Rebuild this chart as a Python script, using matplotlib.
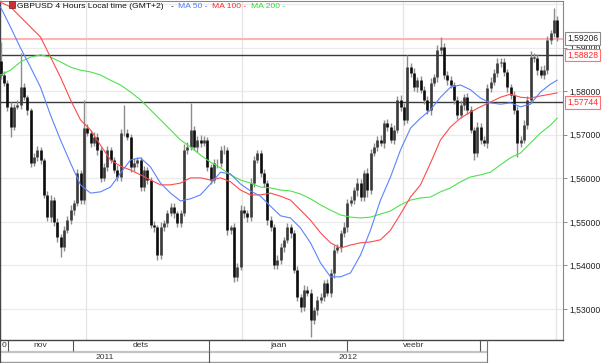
import numpy as np
import matplotlib
matplotlib.use("Agg")
import matplotlib.pyplot as plt
from matplotlib.ticker import FuncFormatter
from matplotlib.patches import Rectangle
import matplotlib.transforms as mtrans

plt.rcParams['font.family'] = ['Liberation Sans', 'DejaVu Sans']

# ---- data (GBPUSD, 4h candles) ----
first_open = 1.5868
closes = [
    1.5837, 1.5819, 1.5764, 1.5718, 1.5764, 1.5768, 1.5809, 1.5786, 1.5757, 1.5635,
    1.5649, 1.5665, 1.5642, 1.5562, 1.5511, 1.5550, 1.5500, 1.5465, 1.5442, 1.5481,
    1.5504, 1.5527, 1.5543, 1.5612, 1.5550, 1.5715, 1.5704, 1.5681, 1.5695, 1.5665,
    1.5601, 1.5626, 1.5665, 1.5642, 1.5619, 1.5603, 1.5704, 1.5704, 1.5695, 1.5626,
    1.5635, 1.5642,
    1.5580, 1.5619, 1.5596, 1.5493, 1.5488, 1.5424, 1.5488, 1.5497, 1.5520, 1.5534,
    1.5520, 1.5497, 1.5520, 1.5665, 1.5672, 1.5711, 1.5672, 1.5688, 1.5681, 1.5688,
    1.5626, 1.5596, 1.5635, 1.5635, 1.5665, 1.5665, 1.5481, 1.5488, 1.5374, 1.5397,
    1.5527, 1.5520, 1.5511, 1.5589, 1.5642, 1.5658, 1.5612, 1.5589, 1.5504, 1.5488,
    1.5401, 1.5413,
    1.5442, 1.5459, 1.5488, 1.5475, 1.5390, 1.5328, 1.5305, 1.5344, 1.5337, 1.5275,
    1.5298, 1.5321, 1.5328, 1.5360, 1.5337, 1.5383, 1.5436, 1.5442, 1.5475, 1.5488,
    1.5543, 1.5550, 1.5573, 1.5589, 1.5557, 1.5612, 1.5573, 1.5658, 1.5672, 1.5688,
    1.5681, 1.5727, 1.5718, 1.5688, 1.5711, 1.5780, 1.5764, 1.5734, 1.5855, 1.5842,
    1.5809, 1.5825,
    1.5803, 1.5780, 1.5757, 1.5819, 1.5832, 1.5894, 1.5901, 1.5837, 1.5825, 1.5814,
    1.5780, 1.5745, 1.5768, 1.5786, 1.5757, 1.5711, 1.5658, 1.5718, 1.5688, 1.5681,
    1.5807, 1.5821, 1.5842, 1.5864, 1.5867, 1.5844, 1.5809, 1.5791, 1.5757, 1.5681,
    1.5688, 1.5722, 1.5780, 1.5878, 1.5876, 1.5848, 1.5837, 1.5848, 1.5917, 1.5933,
    1.5963, 1.5924,
]
# wick lengths beyond the body, in pips
wick_up = [
    45, 8, 6, 10, 7, 12, 78, 9, 6, 5, 10, 8, 7, 5,
    9, 11, 6, 8, 7, 10, 9, 12, 8, 10, 6, 65, 9, 7,
    11, 8, 6, 10, 9, 7, 8, 12, 10, 64, 9, 7, 11, 8,
    8, 10, 7, 6, 9, 5, 11, 8, 7, 10, 9, 6, 8, 14,
    12, 62, 10, 9, 11, 8, 7, 6, 10, 9, 8, 12, 7, 6,
    9, 8, 11, 10, 7, 12, 9, 8, 6, 10, 7, 9, 8, 11,
    9, 7, 10, 8, 6, 9, 7, 11, 8, 10, 6, 9, 8, 7,
    10, 9, 11, 8, 7, 12, 9, 10, 8, 11, 9, 7, 12, 10,
    8, 9, 11, 7, 10, 8, 12, 9, 10, 8, 28, 9, 11, 7,
    10, 8, 9, 12, 7, 11, 23, 9, 8, 10, 7, 9, 11, 8,
    10, 9, 7, 12, 8, 10, 9, 11, 8, 12, 10, 9, 7, 8,
    10, 9, 8, 11, 9, 13, 10, 8, 9, 12, 10, 8, 28, 9,
]
wick_dn = [
    9, 7, 10, 23, 8, 6, 9, 7, 11, 8, 6, 10, 9, 7,
    8, 12, 9, 10, 23, 8, 7, 9, 11, 6, 8, 10, 7, 9,
    8, 11, 10, 7, 9, 8, 6, 10, 9, 8, 7, 11, 9, 8,
    10, 8, 9, 7, 11, 11, 8, 10, 9, 7, 12, 8, 9, 6,
    10, 8, 7, 11, 9, 8, 10, 9, 7, 12, 8, 9, 10, 8,
    12, 9, 7, 10, 11, 8, 9, 7, 10, 8, 12, 9, 10, 8,
    9, 10, 8, 12, 7, 9, 11, 10, 8, 39, 9, 11, 8, 10,
    7, 9, 12, 8, 10, 9, 11, 7, 9, 14, 10, 8, 16, 9,
    7, 10, 8, 11, 9, 8, 10, 7, 9, 11, 8, 10, 9, 12,
    8, 10, 9, 11, 7, 10, 8, 9, 12, 8, 10, 9, 7, 11,
    9, 8, 16, 10, 9, 8, 11, 9, 7, 10, 8, 9, 11, 8,
    10, 32, 9, 8, 10, 7, 9, 11, 8, 10, 9, 8, 9, 10,
]

# moving averages, sampled every 3rd bar
ma_bars = list(range(0, 168, 3)) + [167]
ma50 = [
    1.5993, 1.5947, 1.5899, 1.5855, 1.5809, 1.5745, 1.5688, 1.5635, 1.5585, 1.5566,
    1.5569, 1.5580, 1.5612, 1.5642, 1.5647, 1.5626, 1.5589, 1.5566, 1.5548, 1.5553,
    1.5562, 1.5587, 1.5614, 1.5610, 1.5587, 1.5571, 1.5559, 1.5536, 1.5514, 1.5509,
    1.5486, 1.5452, 1.5406, 1.5374, 1.5374, 1.5383, 1.5424, 1.5481, 1.5550, 1.5603,
    1.5665, 1.5715, 1.5738, 1.5757, 1.5786, 1.5809, 1.5814, 1.5803, 1.5784, 1.5773,
    1.5770, 1.5773, 1.5764, 1.5770, 1.5798, 1.5816, 1.5825,
]
ma100 = [
    1.6004, 1.5993, 1.5970, 1.5947, 1.5924, 1.5878, 1.5832, 1.5780, 1.5734, 1.5711,
    1.5676, 1.5642, 1.5628, 1.5619, 1.5608, 1.5596, 1.5585, 1.5585, 1.5589, 1.5601,
    1.5601, 1.5596, 1.5601, 1.5592, 1.5573, 1.5562, 1.5562, 1.5566, 1.5559, 1.5550,
    1.5527, 1.5504, 1.5475, 1.5452, 1.5440, 1.5447, 1.5452, 1.5454, 1.5459, 1.5481,
    1.5518, 1.5557, 1.5585, 1.5635, 1.5688, 1.5718, 1.5738, 1.5752, 1.5764, 1.5775,
    1.5786, 1.5793, 1.5786, 1.5784, 1.5789, 1.5793, 1.5796,
]
ma200 = [
    1.5837, 1.5848, 1.5867, 1.5878, 1.5883, 1.5878, 1.5867, 1.5855, 1.5848, 1.5844,
    1.5837, 1.5825, 1.5814, 1.5798, 1.5780, 1.5757, 1.5734, 1.5711, 1.5688, 1.5672,
    1.5653, 1.5637, 1.5624, 1.5608, 1.5596, 1.5589, 1.5580, 1.5578, 1.5573, 1.5571,
    1.5564, 1.5553, 1.5539, 1.5527, 1.5516, 1.5511, 1.5509, 1.5511, 1.5518, 1.5525,
    1.5539, 1.5550, 1.5555, 1.5557, 1.5569, 1.5578, 1.5592, 1.5603, 1.5608, 1.5614,
    1.5631, 1.5647, 1.5658, 1.5681, 1.5704, 1.5722, 1.5738,
]

level_lines = [1.58828, 1.57744]
last_price = 1.59206
price_ticks = [1.53, 1.54, 1.55, 1.56, 1.57, 1.58, 1.59]
month_names = ['0', 'nov', 'dets', 'jaan', 'veebr']
month_edges = [-0.15, 2.25, 21.75, 62.55, 103.95, 143.85]
year_names = ['2011', '2012']
year_edges = [-0.15, 62.55, 145.95]
vgrid_bars = [25.65, 72.45, 120.75, 166.65]

# ---- figure ----
W, H = 605, 363
fig = plt.figure(figsize=(W / 100, H / 100), dpi=100)
ax = fig.add_axes([0, 23 / H, 563 / W, 339 / H])

closes = np.array(closes)
opens = np.concatenate([[first_open], closes[:-1]])
highs = np.maximum(opens, closes) + np.array(wick_up) / 10000.0
lows = np.minimum(opens, closes) - np.array(wick_dn) / 10000.0
bars = np.arange(len(closes))
up = closes >= opens

for p in price_ticks + [1.60]:
    ax.axhline(p, color='#ebebeb', lw=0.9, zorder=0)
for b in vgrid_bars:
    ax.axvline(b, color='#e4e4e4', lw=0.9, zorder=0)

ax.axhline(last_price, color='#ffb4b4', lw=1.5, zorder=1)
for lv in level_lines:
    ax.axhline(lv, color='#3a3a3a', lw=1.0, zorder=2)

ax.vlines(bars, lows, highs, color='#8c8c8c', lw=1.0, zorder=3)
ax.vlines(bars[up], opens[up], closes[up], color='#3a3a3a', lw=1.9, zorder=4)
ax.vlines(bars[~up], closes[~up], opens[~up], color='#0d0d0d', lw=1.9, zorder=4)

ax.plot(ma_bars, ma200, color='#4ee24e', lw=0.8, zorder=5)
ax.plot(ma_bars, ma100, color='#ff4a4a', lw=0.8, zorder=5)
ax.plot(ma_bars, ma50, color='#5b82ff', lw=0.8, zorder=5)

ax.set_xlim(-0.15, 168.75)
ax.set_ylim(1.52291, 1.60067)
ax.set_xticks([])
ax.yaxis.tick_right()
ax.set_yticks(price_ticks)
ax.yaxis.set_major_formatter(FuncFormatter(lambda v, pos: f"{v:.5f}".replace('.', ',')))
ax.tick_params(axis='y', direction='out', length=3, width=0.6, color='#777777',
               pad=1.5, labelsize=6.2, labelcolor='#222222')

for side in ['left', 'bottom']:
    ax.spines[side].set_color('#444444')
    ax.spines[side].set_linewidth(1.0)
ax.spines['top'].set_color('#888888')
ax.spines['right'].set_color('#888888')
ax.spines['right'].set_linestyle((0, (1, 1)))
ax.spines['right'].set_linewidth(0.8)

# price boxes on the right scale
tr = mtrans.blended_transform_factory(ax.transAxes, ax.transData)
boxes = [(last_price, '#222222', '#8a8a8a'),
         (level_lines[0], '#ff2a2a', '#ff7070'),
         (level_lines[1], '#ff2a2a', '#ff7070')]
for val, tc, ec in boxes:
    ax.text(1 + 4 / 563, val, f"{val:.5f}".replace('.', ','), transform=tr,
            ha='left', va='center', fontsize=6.2, color=tc, clip_on=False, zorder=10,
            bbox=dict(boxstyle='square,pad=0.22', fc='white', ec=ec, lw=0.8))

# title
fig.patches.append(Rectangle((9 / W, 1 - 8 / H), 6 / W, 7 / H, transform=fig.transFigure,
                             fc='#c83232', ec='#7a1a1a', lw=0.5))
ty = 1 - 6.5 / H
fs_t = 6.1
fig.text(17 / W, ty, 'GBPUSD 4 Hours Local time (GMT+2)', fontsize=fs_t, color='#111111', va='center')
fig.text(171 / W, ty, '-', fontsize=fs_t, color='#111111', va='center')
fig.text(178 / W, ty, 'MA 50 -', fontsize=fs_t, color='#4f78ff', va='center')
fig.text(212 / W, ty, 'MA 100 -', fontsize=fs_t, color='#ff2a2a', va='center')
fig.text(251 / W, ty, 'MA 200 -', fontsize=fs_t, color='#2ee02e', va='center')

# time scale band
axb = fig.add_axes([0, 0, 563 / W, 23 / H])
axb.set_xlim(ax.get_xlim())
axb.set_ylim(23, 0)
axb.axis('off')
right_end = year_edges[-1]
axb.hlines(11.5, -0.15, right_end, color='#c4c4c4', lw=1.6)
axb.hlines(22.2, -0.15, right_end, color='#9a9a9a', lw=1.0)
axb.vlines(month_edges[1:], 0, 11, color='#555555', lw=0.8)
axb.vlines(right_end, 0, 23, color='#777777', lw=0.8)
axb.vlines(year_edges[1:-1], 11, 23, color='#555555', lw=0.8)
axb.vlines(-0.15, 0, 23, color='#444444', lw=1.6)
for k, name in enumerate(month_names):
    x0 = month_edges[k]
    x1 = month_edges[k + 1] if k + 1 < len(month_edges) else right_end
    axb.text((x0 + x1) / 2, 5.8, name, ha='center', va='center', fontsize=6.1, color='#333333')
for k, name in enumerate(year_names):
    axb.text((year_edges[k] + year_edges[k + 1]) / 2, 17.2, name, ha='center', va='center',
             fontsize=6.1, color='#333333')

fig.savefig('out.png', dpi=100)
